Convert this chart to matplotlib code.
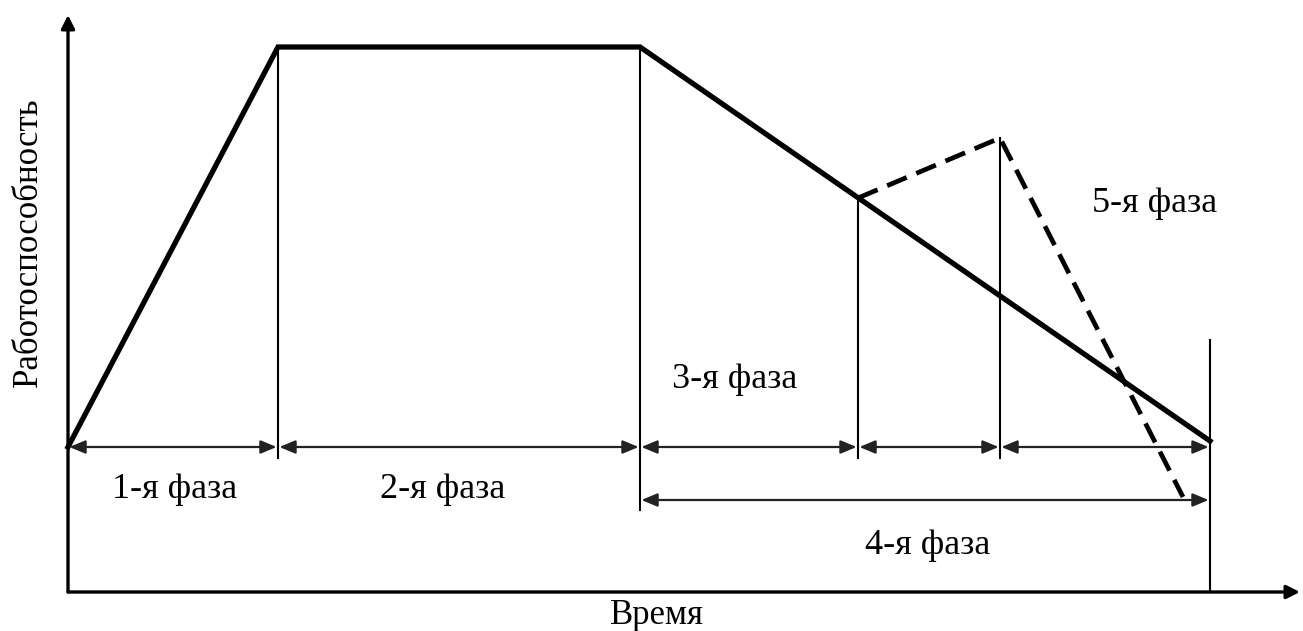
import matplotlib
matplotlib.use("Agg")
import matplotlib.pyplot as plt

# Phase boundary times (x) and performance levels (y)
t_bounds = [0, 210, 572, 790, 932, 1142]
perf_solid_t = [0, 210, 572, 1142]
perf_solid = [145, 545, 545, 151]
perf_dash_t = [790, 932, 1115]
perf_dash = [394, 454, 95]
phase_labels = ["1-я фаза", "2-я фаза", "3-я фаза", "4-я фаза", "5-я фаза"]
xlabel = "Время"
ylabel = "Работоспособность"

plt.rcParams['font.family'] = ['Liberation Serif', 'DejaVu Serif']

fig = plt.figure(figsize=(13.03, 6.31), dpi=100)
ax = fig.add_axes([0, 0, 1, 1])
ax.set_xlim(-68, 1235)
ax.set_ylim(-39, 592)
ax.axis('off')

# axes arrows
ax.annotate("", xy=(1232, 0), xytext=(0, 0),
            arrowprops=dict(arrowstyle='-|>', lw=2.4, color='black',
                            shrinkA=0, shrinkB=0, mutation_scale=20))
ax.annotate("", xy=(0, 577), xytext=(0, 0),
            arrowprops=dict(arrowstyle='-|>', lw=2.4, color='black',
                            shrinkA=0, shrinkB=0, mutation_scale=20))

# main curve
ax.plot(perf_solid_t, perf_solid, color='black', lw=3.8, solid_joinstyle='miter', zorder=5)
ax.plot(perf_dash_t, perf_dash, color='black', lw=3.4, ls=(0, (4.5, 2.2)), zorder=5)

# vertical lines
y_dim = 145
ax.plot([t_bounds[1]] * 2, [y_dim - 11, perf_solid[1]], color='black', lw=1.5)
ax.plot([t_bounds[2]] * 2, [82, perf_solid[2]], color='black', lw=1.5)
ax.plot([t_bounds[3]] * 2, [y_dim - 11, perf_dash[0]], color='black', lw=1.5)
ax.plot([t_bounds[4]] * 2, [y_dim - 11, perf_dash[1]], color='black', lw=1.5)
ax.plot([t_bounds[5]] * 2, [0, 252], color='black', lw=1.5)

# dimension arrows
arrow_kw = dict(arrowstyle='<|-|>,head_length=0.6,head_width=0.25', lw=1.6, color='#222222',
                shrinkA=1, shrinkB=1, mutation_scale=16)
for a, b in zip(t_bounds[:-1], t_bounds[1:]):
    ax.annotate("", xy=(b, y_dim), xytext=(a, y_dim), arrowprops=arrow_kw)
ax.annotate("", xy=(t_bounds[5], 92), xytext=(t_bounds[2], 92), arrowprops=arrow_kw)

fs = 26
ax.text(107, 102, phase_labels[0], fontsize=fs, ha='center', va='center')
ax.text(375, 102, phase_labels[1], fontsize=fs, ha='center', va='center')
ax.text(667, 212, phase_labels[2], fontsize=fs, ha='center', va='center')
ax.text(860, 47, phase_labels[3], fontsize=fs, ha='center', va='center')
ax.text(1087, 389, phase_labels[4], fontsize=fs, ha='center', va='center')
ax.text(589, -23, xlabel, fontsize=25, ha='center', va='center')
ax.text(-40, 350, ylabel, fontsize=25, ha='center', va='center', rotation=90)

fig.savefig("out.png", dpi=100)
